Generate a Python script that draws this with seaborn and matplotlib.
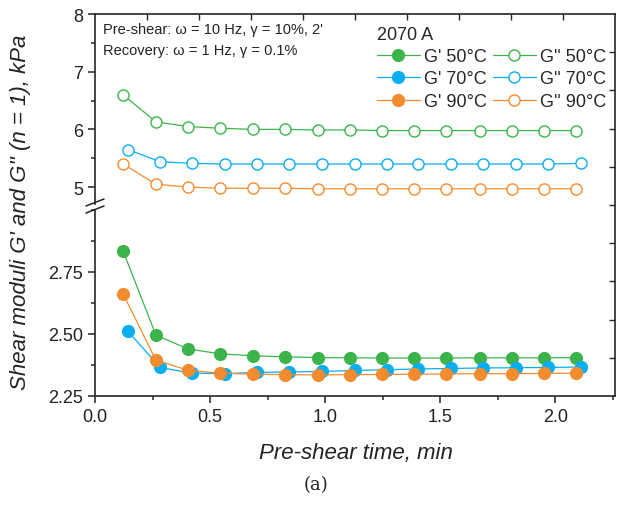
import matplotlib
matplotlib.use("Agg")
import matplotlib.pyplot as plt
from matplotlib.ticker import FormatStrFormatter, MultipleLocator, FixedLocator
from matplotlib.lines import Line2D
import seaborn as sns

# ---------------- data ----------------
x_50 = [0.122, 0.265, 0.404, 0.543, 0.687, 0.826, 0.970, 1.109, 1.248, 1.387, 1.526, 1.674, 1.813, 1.952, 2.091]
x_70 = [0.143, 0.283, 0.422, 0.565, 0.704, 0.843, 0.987, 1.130, 1.270, 1.404, 1.548, 1.687, 1.830, 1.970, 2.113]
x_90 = [0.122, 0.265, 0.404, 0.543, 0.687, 0.826, 0.970, 1.109, 1.248, 1.387, 1.526, 1.674, 1.813, 1.952, 2.091]

gp_50 = [2.835, 2.495, 2.440, 2.420, 2.412, 2.408, 2.405, 2.404, 2.403, 2.403, 2.403, 2.404, 2.404, 2.404, 2.405]
gp_70 = [2.511, 2.365, 2.342, 2.340, 2.345, 2.347, 2.349, 2.353, 2.356, 2.359, 2.361, 2.363, 2.364, 2.365, 2.367]
gp_90 = [2.662, 2.394, 2.354, 2.342, 2.338, 2.336, 2.335, 2.336, 2.337, 2.338, 2.339, 2.340, 2.340, 2.341, 2.342]

gpp_50 = [6.60, 6.13, 6.05, 6.02, 6.00, 6.00, 5.99, 5.99, 5.98, 5.98, 5.98, 5.98, 5.98, 5.98, 5.98]
gpp_70 = [5.65, 5.44, 5.41, 5.40, 5.40, 5.40, 5.40, 5.40, 5.40, 5.40, 5.40, 5.40, 5.40, 5.40, 5.41]
gpp_90 = [5.40, 5.05, 5.00, 4.98, 4.98, 4.98, 4.97, 4.97, 4.97, 4.97, 4.97, 4.97, 4.97, 4.97, 4.97]

temps = ["50°C", "70°C", "90°C"]
colors = ["#3cb44b", "#08aeef", "#f28c2e"]

x_ticks = [0.0, 0.5, 1.0, 1.5, 2.0]
upper_ticks = [5, 6, 7, 8]
lower_ticks = [2.25, 2.50, 2.75]

# ---------------- style ----------------
sns.set_style("ticks")
plt.rcParams["font.family"] = ["Liberation Sans", "DejaVu Sans"]
plt.rcParams["axes.linewidth"] = 1.2

W, H = 624, 506
fig = plt.figure(figsize=(W / 100, H / 100), dpi=100)

def fx(px):
    return px / W

def fy(py):
    return 1 - py / H

L, R = 95, 615
ax_up = fig.add_axes([fx(L), fy(205.4), fx(R - L), fy(15) - fy(205.4)])
ax_lo = fig.add_axes([fx(L), fy(397), fx(R - L), fy(211) - fy(397)])

xs = [x_50, x_70, x_90]
gps = [gp_50, gp_70, gp_90]
gpps = [gpp_50, gpp_70, gpp_90]

for xv, g1, g2, c in zip(xs, gps, gpps, colors):
    sns.lineplot(x=xv, y=g2, ax=ax_up, color=c, lw=0.9, marker="o", markersize=8,
                 markerfacecolor="white", markeredgecolor=c, markeredgewidth=1.0,
                 legend=False, sort=False)
    sns.lineplot(x=xv, y=g1, ax=ax_lo, color=c, lw=0.9, marker="o", markersize=8.5,
                 markerfacecolor=c, markeredgecolor=c, markeredgewidth=1.0,
                 legend=False, sort=False)

xmax = 2.26
for ax in (ax_up, ax_lo):
    ax.set_xlim(0, xmax)
    ax.set_xlabel("")
    ax.set_ylabel("")
    ax.patch.set_alpha(0)
    for s in ("top", "right"):
        ax.spines[s].set_visible(False)
    ax.tick_params(axis="both", which="major", direction="out", length=5, width=1.1,
                   labelsize=13, colors="#222222", labelcolor="#222222")
    ax.tick_params(axis="both", which="minor", direction="out", length=3, width=1.1)

ax_up.set_ylim(4.7, 8)
ax_up.spines["bottom"].set_visible(False)
ax_up.tick_params(axis="x", which="both", bottom=False, labelbottom=False)
ax_up.yaxis.set_major_locator(FixedLocator(upper_ticks))
ax_up.yaxis.set_minor_locator(MultipleLocator(0.5))
ax_up.yaxis.set_major_formatter(FormatStrFormatter("%d"))

ax_lo.set_ylim(2.25, 3.0)
ax_lo.yaxis.set_major_locator(FixedLocator(lower_ticks))
ax_lo.yaxis.set_minor_locator(MultipleLocator(0.125))
ax_lo.yaxis.set_major_formatter(FormatStrFormatter("%.2f"))
ax_lo.xaxis.set_major_locator(FixedLocator(x_ticks))
ax_lo.xaxis.set_minor_locator(MultipleLocator(0.25))
ax_lo.xaxis.set_major_formatter(FormatStrFormatter("%.1f"))

# overlay frame for top/right spines with inward ticks
ov = fig.add_axes([fx(L), fy(397), fx(R - L), fy(15) - fy(397)])
ov.patch.set_alpha(0)
ov.set_xlim(0, 1)
ov.set_ylim(0, 1)
for s in ("left", "bottom"):
    ov.spines[s].set_visible(False)
ov.xaxis.set_major_locator(FixedLocator([i / 10 for i in range(1, 10)]))
ov.yaxis.set_major_locator(FixedLocator([i / 10 for i in range(1, 10)]))
ov.tick_params(axis="both", which="both", direction="in", length=4, width=1.0,
               top=True, right=True, bottom=False, left=False,
               labeltop=False, labelright=False, labelbottom=False, labelleft=False)

# break marks on left spine
for yb in (203.5, 210.5):
    fig.add_artist(Line2D([fx(86), fx(104)], [fy(yb + 3.5), fy(yb - 3.5)],
                          transform=fig.transFigure, color="#222222", lw=1.1))

# legend
handles = []
labels = []
for t, c in zip(temps, colors):
    handles.append(Line2D([], [], color=c, lw=0.9, marker="o", markersize=8.5,
                          markerfacecolor=c, markeredgecolor=c))
    labels.append("G' " + t)
for t, c in zip(temps, colors):
    handles.append(Line2D([], [], color=c, lw=0.9, marker="o", markersize=8,
                          markerfacecolor="white", markeredgecolor=c))
    labels.append("G'' " + t)
leg = ax_up.legend(handles, labels, ncol=2, loc="upper left",
                   bbox_to_anchor=(fx(364), fy(14)), bbox_transform=fig.transFigure,
                   frameon=False, fontsize=13, title="2070 A", title_fontsize=13,
                   handlelength=2.4, handletextpad=0.2, columnspacing=0.35,
                   labelspacing=0.3, borderpad=0.2, alignment="left")

# annotations
fig.text(fx(103), fy(30), "Pre-shear: ω = 10 Hz, γ = 10%, 2'", fontsize=10.5,
         va="center", ha="left", color="#222222")
fig.text(fx(103), fy(51), "Recovery: ω = 1 Hz, γ = 0.1%", fontsize=10.5,
         va="center", ha="left", color="#222222")

fig.text(fx(356), fy(453), "Pre-shear time, min", fontsize=16, style="italic",
         ha="center", va="center", color="#222222")
fig.text(fx(21), fy(212), "Shear moduli G' and G'' (n = 1), kPa", fontsize=16,
         style="italic", rotation=90, ha="center", va="center", color="#222222")
fig.text(fx(316), fy(485), "(a)", fontsize=13, family=["DejaVu Serif"],
         ha="center", va="center", color="#222222")

fig.savefig("out.png", dpi=100)
